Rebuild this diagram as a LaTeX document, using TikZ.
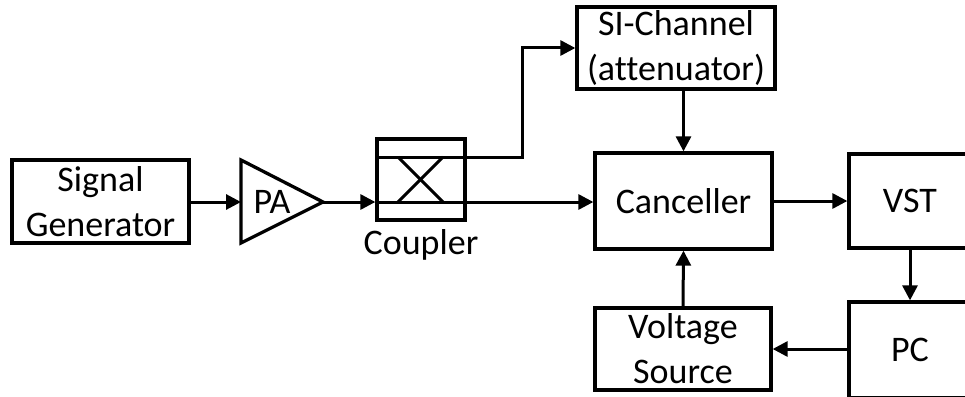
\documentclass[tikz,border=0pt]{standalone}
\usepackage{fontspec}
\setmainfont{Carlito}[Ligatures=NoCommon]
\usetikzlibrary{arrows.meta,calc}
\begin{document}
\begin{tikzpicture}[x=1pt,y=1pt,
  blk/.style={draw=black, line width=3.3pt, fill=white, inner sep=0pt, align=center,
    font=\fontsize{36}{45}\selectfont},
  conn/.style={line width=3pt, -{Triangle[length=15pt,width=15pt]}},
  wire/.style={line width=3pt},
  lbl/.style={inner sep=0pt, font=\fontsize{36}{45}\selectfont}]
\useasboundingbox (0,0) rectangle (965,-396);
\fill[white] (0,0) rectangle (965,-396);
\clip (0,0) rectangle (965,-396);
% blocks
\node[blk, minimum width=177pt, minimum height=83pt] (sg) at (100.5,-201.5) {Signal\\Generator};
\node[blk, minimum width=88pt, minimum height=81pt] (cp) at (421,-179.5) {};
\node[blk, minimum width=198pt, minimum height=82pt] (si) at (676,-48) {SI-Channel\\(attenuator)};
\node[blk, minimum width=177pt, minimum height=96pt] (cn) at (683.5,-201) {Canceller};
\node[blk, minimum width=122pt, minimum height=94pt] (vst) at (910,-201) {VST};
\node[blk, minimum width=122pt, minimum height=96pt] (pc) at (910,-350) {PC};
\node[blk, minimum width=176pt, minimum height=82pt] (vs) at (683,-349) {Voltage\\Source};
% PA triangle
\coordinate (pain) at (241,-202);
\coordinate (paout) at (323,-202);
\draw[line width=3.3pt, line join=miter] (241,-160) -- (paout) -- (241,-243) -- cycle;
\node[lbl] (pa) at (272,-202) {PA};
% coupler internals
\coordinate (cpt) at (cp.west |- 0,-157);
\coordinate (cpb) at (cp.west |- 0,-202);
\coordinate (bend) at (522,-157);
\draw[wire] (398,-157) -- (443,-202);
\draw[wire] (443,-157) -- (398,-202);
\node[lbl, anchor=north] (cpl) at ($(cp.south)+(0,-8)$) {Coupler};
% connectors
\draw[conn] (sg.east |- pain) -- (pain);
\draw[conn] (paout) -- (cpb);
\draw[conn] (cpt) -- (bend) |- (si.west);
\draw[conn] (cpb) -- (cn.west |- cpb);
\draw[conn] (cn.north |- si.south) -- (cn.north);
\draw[conn] (cn.east) -- (vst.west);
\draw[conn] (vst.south) -- (pc.north);
\draw[conn] (pc.west |- vs.east) -- (vs.east);
\draw[conn] (vs.north) -- (cn.south);
\end{tikzpicture}
\end{document}
